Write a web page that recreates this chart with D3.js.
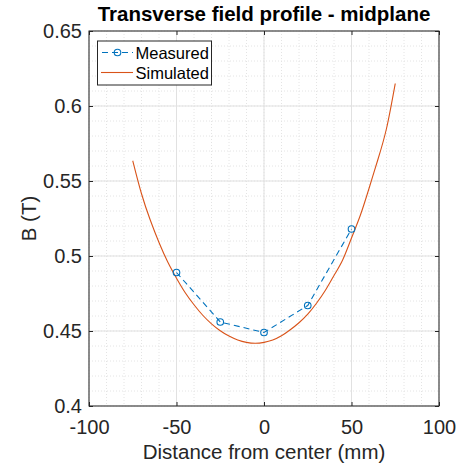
<!DOCTYPE html>
<html>
<head>
<meta charset="utf-8">
<script src="https://cdn.jsdelivr.net/npm/d3@7"></script>
<style>
	body { margin: 0; background: #fff; }
	text { font-family: "Liberation Sans", Arial, sans-serif; fill: #262626; }
</style>
</head>
<body>
<svg id="chart" width="461" height="464"></svg>
<script>
// measured points
const measuredX = [-50, -25, 0, 25, 50]
const measuredB = [0.489, 0.456, 0.449, 0.467, 0.518]

// simulated curve
const simX = [-75, -70, -65, -60, -55, -50, -45, -40, -35, -30, -25, -20, -15, -10, -5, 0, 5, 10, 15, 20, 25, 30, 35, 40, 45, 50, 55, 60, 65, 70, 75]
const simB = [0.5635, 0.5415, 0.524, 0.509, 0.496, 0.4852, 0.4755, 0.4675, 0.4605, 0.4548, 0.4502, 0.4466, 0.444, 0.4424, 0.4418, 0.4424, 0.444, 0.4468, 0.4508, 0.4555, 0.4612, 0.4685, 0.477, 0.487, 0.4975, 0.512, 0.527, 0.545, 0.564, 0.585, 0.615]

const xTicks = [-100, -50, 0, 50, 100]
const yTicks = [0.4, 0.45, 0.5, 0.55, 0.6, 0.65]
const xMinor = d3.range(-100, 101, 10)
const yMinor = d3.range(40, 66, 1).map(d => d / 100)

const margin = {top: 31, right: 22, bottom: 58, left: 89}
const W = 461, H = 464

const svg = d3.select('#chart')

const x = d3.scaleLinear()
			.domain([-100, 100])
			.range([margin.left, W - margin.right])

const y = d3.scaleLinear()
			.domain([0.4, 0.65])
			.range([H - margin.bottom, margin.top])

const pl = x(-100), pr = x(100), pt = y(0.65), pb = y(0.4)

// minor grid (dotted)
const grid = svg.append('g')
grid.selectAll('.mx')
	.data(xMinor)
	.join('line')
		.attr('x1', d => x(d)).attr('x2', d => x(d))
		.attr('y1', pt).attr('y2', pb)
		.attr('stroke', '#e4e4e4').attr('stroke-dasharray', '1,2')
grid.selectAll('.my')
	.data(yMinor)
	.join('line')
		.attr('y1', d => y(d)).attr('y2', d => y(d))
		.attr('x1', pl).attr('x2', pr)
		.attr('stroke', '#e4e4e4').attr('stroke-dasharray', '1,2')

// major grid
grid.selectAll('.gx')
	.data(xTicks)
	.join('line')
		.attr('x1', d => x(d)).attr('x2', d => x(d))
		.attr('y1', pt).attr('y2', pb)
		.attr('stroke', '#e1e1e1')
grid.selectAll('.gy')
	.data(yTicks)
	.join('line')
		.attr('y1', d => y(d)).attr('y2', d => y(d))
		.attr('x1', pl).attr('x2', pr)
		.attr('stroke', '#e1e1e1')

// simulated line
svg.append('path')
	.datum(simX.map((d, i) => [d, simB[i]]))
	.attr('fill', 'none')
	.attr('stroke', '#D95319')
	.attr('stroke-width', 1.1)
	.attr('d', d3.line().x(d => x(d[0])).y(d => y(d[1])).curve(d3.curveNatural))

// measured line + markers
const meas = measuredX.map((d, i) => [d, measuredB[i]])
svg.append('path')
	.datum(meas)
	.attr('fill', 'none')
	.attr('stroke', '#0072BD')
	.attr('stroke-width', 1.1)
	.attr('stroke-dasharray', '6,4')
	.attr('d', d3.line().x(d => x(d[0])).y(d => y(d[1])))
svg.append('g')
	.selectAll('circle')
	.data(meas)
	.join('circle')
		.attr('cx', d => x(d[0]))
		.attr('cy', d => y(d[1]))
		.attr('r', 3.3)
		.attr('fill', 'none')
		.attr('stroke', '#0072BD')
		.attr('stroke-width', 1.1)

// axes, ticks pointing inward (plain hyphen for negatives, like the original)
const fmt = d => String(d)
svg.append('g')
	.attr('transform', 'translate(0,' + pb + ')')
	.call(d3.axisBottom(x).tickValues(xTicks).tickFormat(fmt).tickSizeInner(-4).tickSizeOuter(0).tickPadding(13.5))
	.style('font-size', '20px')
svg.append('g')
	.attr('transform', 'translate(' + pl + ',0)')
	.call(d3.axisLeft(y).tickValues(yTicks).tickFormat(fmt).tickSizeInner(-4).tickSizeOuter(0).tickPadding(7))
	.style('font-size', '20px')
svg.append('g')
	.attr('transform', 'translate(0,' + pt + ')')
	.call(d3.axisTop(x).tickValues(xTicks).tickFormat('').tickSizeInner(-4).tickSizeOuter(0))
svg.append('g')
	.attr('transform', 'translate(' + pr + ',0)')
	.call(d3.axisRight(y).tickValues(yTicks).tickFormat('').tickSizeInner(-4).tickSizeOuter(0))
svg.selectAll('.domain').remove()
svg.selectAll('.tick line').attr('stroke', '#262626')
svg.selectAll('.tick text').attr('fill', '#262626').style('font-family', '"Liberation Sans", Arial, sans-serif')

// box
svg.append('rect')
	.attr('x', pl).attr('y', pt)
	.attr('width', pr - pl).attr('height', pb - pt)
	.attr('fill', 'none').attr('stroke', '#262626').attr('stroke-width', 1)

// title and labels
svg.append('text')
	.attr('x', (pl + pr) / 2).attr('y', 21)
	.attr('text-anchor', 'middle')
	.style('font-size', '20.5px').style('font-weight', 'bold')
	.style('fill', '#000')
	.text('Transverse field profile - midplane')
svg.append('text')
	.attr('x', (pl + pr) / 2).attr('y', 459)
	.attr('text-anchor', 'middle')
	.style('font-size', '20.5px')
	.text('Distance from center (mm)')
svg.append('text')
	.attr('transform', 'translate(36,' + ((pt + pb) / 2) + ') rotate(-90)')
	.attr('text-anchor', 'middle')
	.style('font-size', '20.5px')
	.text('B (T)')

// legend
const lg = svg.append('g')
lg.append('rect')
	.attr('x', 97.5).attr('y', 41).attr('width', 114).attr('height', 44)
	.attr('fill', '#fff').attr('stroke', '#262626').attr('stroke-width', 1)
lg.append('line')
	.attr('x1', 101).attr('x2', 133).attr('y1', 52.5).attr('y2', 52.5)
	.attr('stroke', '#0072BD').attr('stroke-width', 1.1).attr('stroke-dasharray', '6,4').attr('stroke-dashoffset', -1)
lg.append('circle')
	.attr('cx', 117.5).attr('cy', 52.5).attr('r', 3.3)
	.attr('fill', 'none').attr('stroke', '#0072BD').attr('stroke-width', 1.1)
lg.append('line')
	.attr('x1', 101).attr('x2', 133).attr('y1', 72.5).attr('y2', 72.5)
	.attr('stroke', '#D95319').attr('stroke-width', 1.1)
lg.append('text')
	.attr('x', 135.5).attr('y', 58.5)
	.style('font-size', '16.5px').style('fill', '#000')
	.text('Measured')
lg.append('text')
	.attr('x', 135.5).attr('y', 78.5)
	.style('font-size', '16.5px').style('fill', '#000')
	.text('Simulated')
</script>
</body>
</html>
